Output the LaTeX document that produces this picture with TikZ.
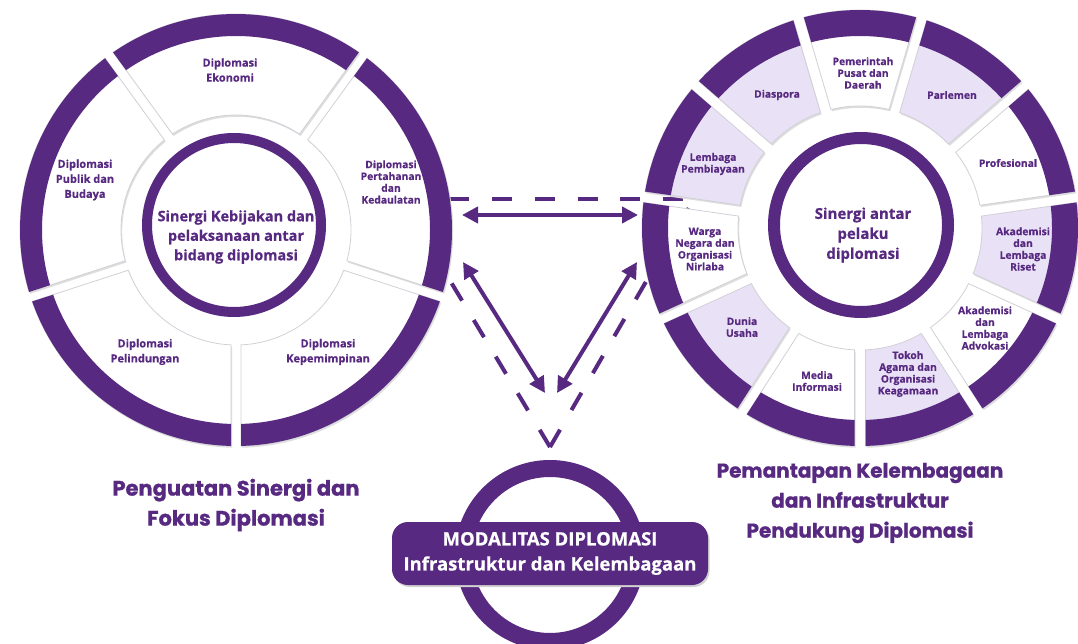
\documentclass[tikz,border=0pt]{standalone}
\usepackage{fontspec}
\setmainfont{Open Sans}[BoldFeatures={FakeBold=0.6}]
\newfontfamily\titlefont{Poppins}[BoldFeatures={FakeBold=1.0}]
\usetikzlibrary{arrows.meta,calc}
\definecolor{dpurple}{RGB}{87,41,128}
\definecolor{lav}{RGB}{233,225,246}
\definecolor{segedge}{RGB}{210,208,215}
% #1 centre, #2 start angle, #3 end angle, #4 inner r, #5 outer r, #6 fill, #7 band width, #8 half gap
\newcommand\mysector[8]{%
  \pgfmathsetmacro\aoi{#2+asin(#8/#5)}%
  \pgfmathsetmacro\aoe{#3-asin(#8/#5)}%
  \pgfmathsetmacro\aii{#2+asin(#8/#4)}%
  \pgfmathsetmacro\aie{#3-asin(#8/#4)}%
  \pgfmathsetmacro\rbd{#5-#7}%
  \pgfmathsetmacro\abi{#2+asin(#8/\rbd)}%
  \pgfmathsetmacro\abe{#3-asin(#8/\rbd)}%
  \path[segment, fill=#6] ($(#1)+(\aoi:#5pt)$) arc[start angle=\aoi, end angle=\aoe, radius=#5pt]
     -- ($(#1)+(\aie:#4pt)$) arc[start angle=\aie, end angle=\aii, radius=#4pt] -- cycle;
  \fill[dpurple] ($(#1)+(\aoi:#5pt)$) arc[start angle=\aoi, end angle=\aoe, radius=#5pt]
     -- ($(#1)+(\abe:\rbd pt)$) arc[start angle=\abe, end angle=\abi, radius=\rbd pt] -- cycle;
}
\begin{document}
\begin{tikzpicture}[x=1pt,y=1pt,
  segment/.style={draw=segedge, line width=0.8pt,
     preaction={fill=black!13, transform canvas={xshift=1.2pt,yshift=-1.8pt}}},
  segtxt/.style={text=dpurple, font=\fontsize{11}{15}\selectfont\bfseries, align=center, inner sep=0pt},
  segtxts/.style={text=dpurple, font=\fontsize{10.3}{11.8}\selectfont\bfseries, align=center, inner sep=0pt},
  coretxt/.style={text=dpurple, font=\fontsize{14.5}{19.5}\selectfont\bfseries, align=center, inner sep=0pt},
  titletxt/.style={text=dpurple, font=\titlefont\fontsize{20}{30}\selectfont\bfseries, align=center, inner sep=0pt},
  corering/.style={circle, draw=dpurple, fill=white, inner sep=0pt,
     preaction={fill=black!13, transform canvas={xshift=1.2pt,yshift=-1.8pt}}},
  dashline/.style={draw=dpurple, line width=4pt, dash pattern=on 20pt off 22.7pt},
  biarrow/.style={draw=dpurple, line width=4pt, {Triangle[length=16pt,width=16pt]}-{Triangle[length=16pt,width=16pt]}},
]
\useasboundingbox (0,0) rectangle (1078,643);
\clip (0,0) rectangle (1078,643);
\fill[white] (0,0) rectangle (1078,643);

% centres
\coordinate (LO) at (236,413);
\coordinate (RO) at (860,415);

% dashed triangle (behind the circles)
\coordinate (tl) at (401,444);
\coordinate (tr) at (694,444);
\coordinate (tb) at (550,196);
\draw[dashline, dash phase=37pt] (tl) -- (tr);
\draw[dashline] (tb) -- (tl);
\draw[dashline] (tb) -- (tr);

% left circle
\mysector{LO}{54}{126}{115}{216}{white}{22}{5}
\mysector{LO}{126}{198}{115}{216}{white}{22}{5}
\mysector{LO}{198}{270}{115}{216}{white}{22}{5}
\mysector{LO}{270}{342}{115}{216}{white}{22}{5}
\mysector{LO}{-18}{54}{115}{216}{white}{22}{5}
\node[corering, line width=10pt, minimum size=174pt] (LC) at (234,418) {};
\node[coretxt] (LCt) at (236,406) {Sinergi Kebijakan dan\\pelaksanaan antar\\bidang diplomasi};
\node[segtxt] (eko) at (230,573) {Diplomasi\\Ekonomi};
\node[segtxt] (pub) at (85,463) {Diplomasi\\Publik dan\\Budaya};
\node[segtxts] (per) at (391,461) {Diplomasi\\Pertahanan\\dan\\Kedaulatan};
\node[segtxt] (pel) at (145,291) {Diplomasi\\Pelindungan};
\node[segtxt] (kep) at (328,291) {Diplomasi\\Kepemimpinan};

% right circle
\foreach \k/\col in {0/white,1/lav,2/white,3/lav,4/white,5/lav,6/white,7/lav,8/white,9/lav,10/lav}{
  \pgfmathsetmacro\ca{90-\k*360/11-180/11}
  \pgfmathsetmacro\cb{90-\k*360/11+180/11}
  \mysector{RO}{\ca}{\cb}{122}{218}{\col}{26}{5.5}
}
\node[corering, line width=12pt, minimum size=174pt] (RC) at (861,418) {};
\node[coretxt, font=\fontsize{15}{20}\selectfont\bfseries] (RCt) at (863,408) {Sinergi antar\\pelaku\\diplomasi};
\node[segtxts] (pem) at (863,570) {Pemerintah\\Pusat dan\\Daerah};
\node[segtxts] (par) at (952,548) {Parlemen};
\node[segtxts] (pro) at (1008,480) {Profesional};
\node[segtxts] (ris) at (1023,394) {Akademisi\\dan\\Lembaga\\Riset};
\node[segtxts] (adv) at (985,315) {Akademisi\\dan\\Lembaga\\Advokasi};
\node[segtxts] (tok) at (908,269) {Tokoh\\Agama dan\\Organisasi\\Keagamaan};
\node[segtxts] (med) at (817,262) {Media\\Informasi};
\node[segtxts] (dun) at (742,316) {Dunia\\Usaha};
\node[segtxts] (war) at (705,394) {Warga\\Negara dan\\Organisasi\\Nirlaba};
\node[segtxts] (lem) at (713,479) {Lembaga\\Pembiayaan};
\node[segtxts] (dia) at (777,548) {Diaspora};

% arrows
\coordinate (ah1) at (462,428);
\coordinate (ah2) at (638,428);
\coordinate (al1) at (463,381);
\coordinate (al2) at (545,250);
\coordinate (ar1) at (637,381);
\coordinate (ar2) at (557,250);
\draw[biarrow] (ah1) -- (ah2);
\draw[biarrow] (al1) -- (al2);
\draw[biarrow] (ar1) -- (ar2);

% bottom circle and banner
\node[corering, line width=17pt, minimum size=173pt] (BC) at (550,88) {};
\node[rectangle, rounded corners=16pt, fill=dpurple, minimum width=316pt, minimum height=63pt,
      text=white, align=center, font=\fontsize{18.5}{25}\selectfont\bfseries,
      preaction={fill=black!18, transform canvas={xshift=1.5pt,yshift=-2pt}}] (BN) at (550,89.5)
      {MODALITAS DIPLOMASI\\Infrastruktur dan Kelembagaan};

% titles
\node[titletxt, font=\titlefont\fontsize{21}{30}\selectfont\bfseries] (TL) at (236,138) {Penguatan Sinergi dan\\Fokus Diplomasi};
\node[titletxt] (TR) at (860,140) {Pemantapan Kelembagaan\\dan Infrastruktur\\Pendukung Diplomasi};
\end{tikzpicture}
\end{document}
